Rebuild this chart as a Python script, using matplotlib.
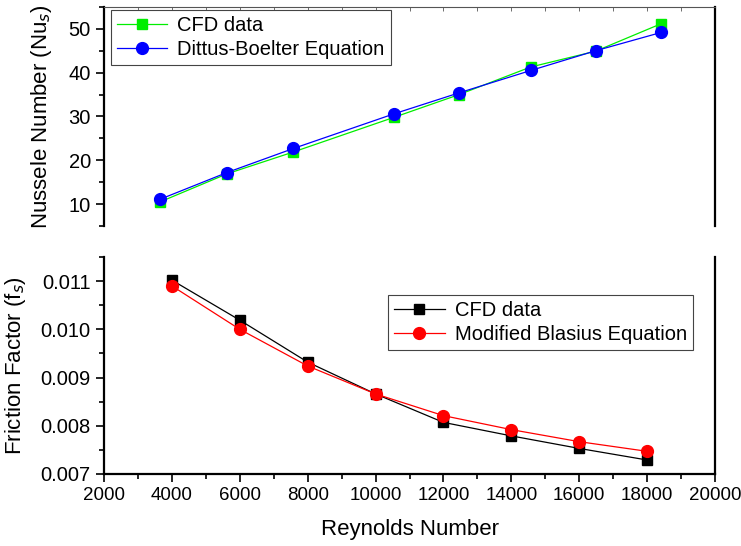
import numpy as np
import matplotlib.pyplot as plt
from matplotlib.ticker import MultipleLocator, FormatStrFormatter

plt.rcParams['font.family'] = ['Liberation Sans', 'DejaVu Sans']

# 上图: Nusselt 数
re_nu = [3650, 5620, 7580, 10540, 12460, 14570, 16480, 18420]
nu_cfd = [10.5, 16.9, 21.9, 29.8, 35.0, 41.3, 44.9, 51.2]
nu_db = [11.1, 17.2, 22.7, 30.6, 35.4, 40.5, 45.0, 49.2]

# 下图: 摩擦系数
re_f = [4000, 6000, 8000, 10000, 12000, 14000, 16000, 18000]
f_cfd = [0.01102, 0.01019, 0.00932, 0.00866, 0.00807, 0.00779, 0.00753, 0.00729]
f_bla = [0.01090, 0.01000, 0.00924, 0.00866, 0.00821, 0.00792, 0.00767, 0.00747]

fig = plt.figure(figsize=(7.41, 5.46), dpi=100)
ax1 = fig.add_axes([0.1404, 0.5861, 0.8245, 0.4011])
ax2 = fig.add_axes([0.1404, 0.1319, 0.8245, 0.3974])

# 上图
ax1.plot(re_nu, nu_cfd, color='#00ee00', marker='s', ms=7, lw=0.9, label='CFD data')
ax1.plot(re_nu, nu_db, color='#0000ff', marker='o', ms=8.5, lw=0.9, label='Dittus-Boelter Equation')
ax1.set_xlim(2000, 20000)
ax1.set_ylim(5, 55)
ax1.yaxis.set_major_locator(MultipleLocator(10))
ax1.yaxis.set_minor_locator(MultipleLocator(5))
ax1.xaxis.set_major_locator(MultipleLocator(1000))
ax1.spines['bottom'].set_visible(False)
ax1.spines['top'].set_color('#555555')
ax1.spines['top'].set_linewidth(0.8)
for s in ['left', 'right']:
    ax1.spines[s].set_linewidth(1.6)
ax1.tick_params(axis='x', which='both', bottom=False, labelbottom=False,
                top=True, direction='in', length=3, width=0.6, color='#555555')
ax1.tick_params(axis='y', which='major', direction='out', length=6, width=1.2, labelsize=14.5)
ax1.tick_params(axis='y', which='minor', direction='out', length=3.5, width=1.2)
ax1.set_ylabel('Nussele Number (Nu$_{s}$)', fontsize=16)
ax1.yaxis.set_label_coords(-0.082, 0.5)
leg1 = ax1.legend(loc='upper left', bbox_to_anchor=(0.011, 0.985), fontsize=14.5, fancybox=False,
                  edgecolor='#444444', framealpha=1, borderpad=0.3, labelspacing=0.25,
                  handlelength=2.5, handletextpad=0.5, borderaxespad=0)
leg1.get_frame().set_linewidth(0.8)

# 下图
ax2.plot(re_f, f_cfd, color='black', marker='s', ms=7, lw=0.9, label='CFD data')
ax2.plot(re_f, f_bla, color='#ff0000', marker='o', ms=8.5, lw=0.9, label='Modified Blasius Equation')
ax2.set_xlim(2000, 20000)
ax2.set_ylim(0.007, 0.0115)
ax2.xaxis.set_major_locator(MultipleLocator(2000))
ax2.xaxis.set_minor_locator(MultipleLocator(1000))
ax2.yaxis.set_major_locator(MultipleLocator(0.001))
ax2.yaxis.set_minor_locator(MultipleLocator(0.0005))
ax2.yaxis.set_major_formatter(FormatStrFormatter('%.3f'))
ax2.spines['top'].set_visible(False)
for s in ['left', 'right', 'bottom']:
    ax2.spines[s].set_linewidth(1.6)
ax2.tick_params(which='major', direction='out', length=6, width=1.2)
ax2.tick_params(which='minor', direction='out', length=3.5, width=1.2)
ax2.tick_params(axis='y', labelsize=14.5)
ax2.tick_params(axis='x', labelsize=13.5)
ax2.set_ylabel('Friction Factor (f$_{s}$)', fontsize=16)
ax2.yaxis.set_label_coords(-0.124, 0.5)
ax2.set_xlabel('Reynolds Number', fontsize=16, labelpad=11)
leg2 = ax2.legend(loc='upper left', bbox_to_anchor=(0.465, 0.826), fontsize=14.5, fancybox=False,
                  edgecolor='#444444', framealpha=1, borderpad=0.3, labelspacing=0.25,
                  handlelength=2.5, handletextpad=0.5, borderaxespad=0)
leg2.get_frame().set_linewidth(0.8)

fig.savefig('out.png', dpi=100)
